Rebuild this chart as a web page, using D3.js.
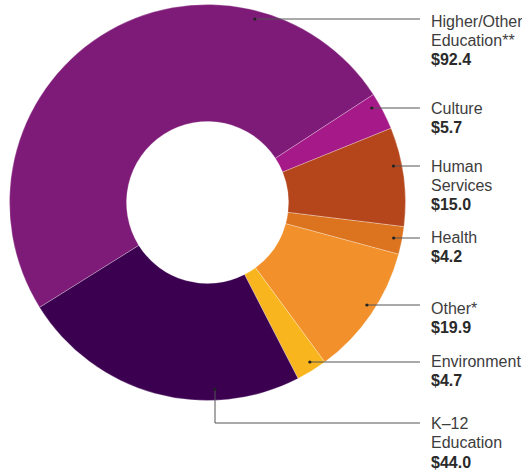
<!DOCTYPE html>
<html>
<head>
<meta charset="utf-8">
<script src="https://cdn.jsdelivr.net/npm/d3@7"></script>
<style>
  html, body { margin: 0; padding: 0; background: #fff; }
  svg { display: block; }
  .lbl { font-family: "Liberation Sans", Arial, Helvetica, sans-serif; font-size: 16px; fill: #3d3d3d; }
  .val { font-weight: bold; fill: #2a2a2a; }
</style>
</head>
<body>
<svg id="chart" width="522" height="471"></svg>
<script>
// Giving by sector, in $ millions
const categories = ["Higher/Other Education**", "Culture", "Human Services", "Health", "Other*", "Environment", "K\u201312 Education"];
const values = [92.4, 5.7, 15.0, 4.2, 19.9, 4.7, 44.0];
const valueLabels = ["$92.4", "$5.7", "$15.0", "$4.2", "$19.9", "$4.7", "$44.0"];
const nameLines = [["Higher/Other", "Education**"], ["Culture"], ["Human", "Services"], ["Health"], ["Other*"], ["Environment"], ["K\u201312", "Education"]];
const colors = ["#7e1b78", "#a51a88", "#b5461c", "#dc741f", "#f2902c", "#f9b51d", "#3b0050"];

// Label layout: leader-line height and first text baseline
const leaderY = [19, 108, 166, 238, 305, 362, 423];
const textY = [26.5, 113.5, 171.5, 242.5, 313.5, 367, 429];

const svg = d3.select("#chart");
const cx = 207.5, cy = 202.5, outerR = 198, innerR = 81, dotR = 189.5;
const textX = 431, lineEndX = 420, lineGap = 19.3;

const data = categories.map((c, i) => ({ name: c, value: values[i], color: colors[i], i }));

const pie = d3.pie()
  .sort(null)
  .value(d => d.value)
  .startAngle(-122 * Math.PI / 180)
  .endAngle(238 * Math.PI / 180);

const arc = d3.arc().innerRadius(innerR).outerRadius(outerR);
const arcs = pie(data);

const g = svg.append("g").attr("transform", `translate(${cx},${cy})`);
g.selectAll("path.slice")
  .data(arcs)
  .join("path")
  .attr("class", "slice")
  .attr("d", arc)
  .attr("fill", d => d.data.color)
  .attr("stroke", "#ffffff")
  .attr("stroke-opacity", 0.45)
  .attr("stroke-width", 0.6);

// Leader lines and dots
const leaders = svg.append("g");
arcs.forEach((a, i) => {
  const y = leaderY[i];
  let pts;
  if (i === arcs.length - 1) {
    // K-12: elbow from the bottom of its slice
    const ang = 177.7 * Math.PI / 180;
    const dx = cx + 187 * Math.sin(ang), dy = cy - 187 * Math.cos(ang);
    pts = [[dx, dy], [dx, y], [lineEndX, y]];
  } else {
    const off = y - cy;
    const dx = cx + Math.sqrt(dotR * dotR - off * off);
    pts = [[dx, y], [lineEndX, y]];
  }
  leaders.append("path")
    .attr("d", d3.line()(pts))
    .attr("fill", "none")
    .attr("stroke", "#555")
    .attr("stroke-width", 1);
  leaders.append("circle")
    .attr("cx", pts[0][0]).attr("cy", pts[0][1])
    .attr("r", 1.6).attr("fill", "#222");
});

// Text labels
const labels = svg.append("g");
arcs.forEach((a, i) => {
  const t = labels.append("text").attr("class", "lbl");
  const lines = nameLines[i];
  lines.forEach((ln, k) => {
    t.append("tspan").attr("x", textX).attr("y", textY[i] + k * lineGap).text(ln);
  });
  t.append("tspan").attr("class", "val").attr("x", textX)
    .attr("y", textY[i] + lines.length * lineGap).text(valueLabels[i]);
});
</script>
</body>
</html>
